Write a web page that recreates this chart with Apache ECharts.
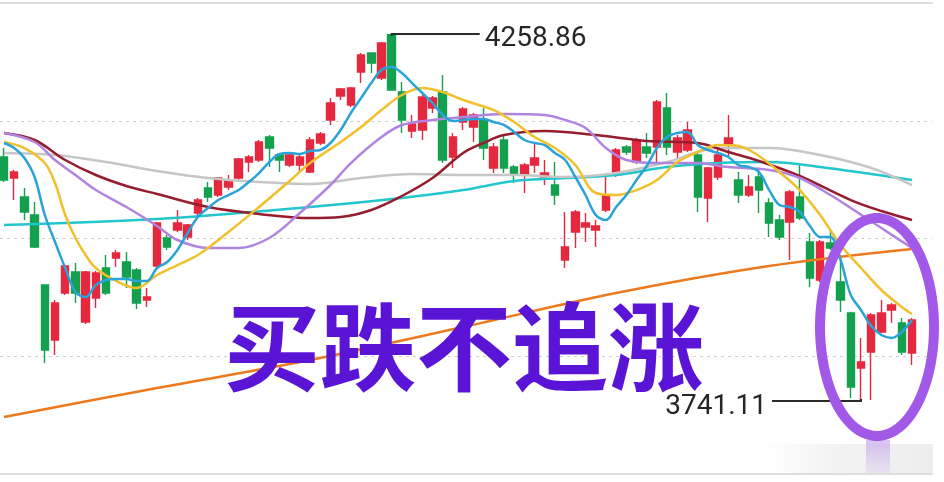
<!DOCTYPE html>
<html><head><meta charset="utf-8">
<script src="https://cdn.jsdelivr.net/npm/echarts@6/dist/echarts.min.js"></script>
<style>html,body{margin:0;padding:0;background:#fff}#c{width:944px;height:482px}</style>
</head><body><div id="c"></div>
<script>
// ---- data ----
const categories = Array.from({length: 90}, (_, i) => 'D' + (i + 1));

const open = [4085.3, 4055.7, 4028.9, 4003.5, 3904.7, 3827.1, 3893.4, 3923.1, 3852.5, 3886.4,
  3928.7, 3942.8, 3937.2, 3925.9, 3883.6, 3931.5, 3971.0, 3982.3, 3972.4, 4006.3,
  4041.6, 4031.7, 4043.0, 4055.7, 4078.2, 4081.1, 4113.5, 4088.1, 4074.0, 4074.0,
  4064.1, 4105.1, 4137.5, 4171.4, 4158.7, 4205.2, 4232.0, 4196.8, 4258.0, 4177.0,
  4122.0, 4123.4, 4154.4, 4177.0, 4085.3, 4134.7, 4127.6, 4137.5, 4069.8, 4109.3,
  4071.2, 4059.9, 4074.0, 4057.1, 4045.8, 3940.0, 3979.5, 3986.5, 3982.3, 4010.5,
  4059.9, 4099.4, 4078.2, 4099.4, 4099.4, 4154.4, 4092.4, 4095.2, 4088.1, 4027.5,
  4057.1, 4102.2, 4052.9, 4031.7, 4057.1, 4020.4, 3996.4, 3993.6, 4028.9, 3965.4,
  3911.8, 3964.0, 3909.0, 3865.2, 3787.6, 3810.2, 3838.4, 3869.5, 3851.1, 3808.8];

const close = [4052.9, 4064.1, 4007.7, 3958.3, 3813.0, 3879.3, 3931.5, 3893.4, 3923.1, 3921.7,
  3893.4, 3949.9, 3916.0, 3879.3, 3887.8, 3992.2, 3958.3, 3992.2, 3989.4, 4024.6,
  4028.9, 4055.7, 4052.9, 4082.5, 4085.3, 4106.5, 4098.0, 4081.1, 4088.1, 4085.3,
  4109.3, 4117.7, 4161.5, 4181.2, 4182.6, 4229.2, 4217.9, 4246.1, 4179.8, 4137.5,
  4131.9, 4170.0, 4168.5, 4081.1, 4113.5, 4153.0, 4144.6, 4098.0, 4099.4, 4069.8,
  4059.9, 4074.0, 4083.9, 4062.7, 4031.7, 3958.3, 4007.7, 3992.2, 3987.9, 4031.7,
  4095.2, 4092.4, 4109.3, 4091.0, 4162.9, 4099.4, 4112.1, 4123.4, 4028.9, 4069.8,
  4088.1, 4112.1, 4031.7, 4043.0, 4038.7, 3992.2, 3972.4, 4035.9, 3999.2, 3914.6,
  3965.4, 3956.9, 3883.6, 3760.8, 3796.1, 3862.4, 3865.2, 3876.5, 3810.2, 3855.3];

const low = [4050.0, 4024.6, 3996.4, 3956.9, 3794.7, 3806.0, 3890.6, 3879.3, 3849.7, 3872.3,
  3890.6, 3930.1, 3900.5, 3870.9, 3873.7, 3928.7, 3954.1, 3979.5, 3968.2, 4000.7,
  4021.8, 4028.9, 4038.7, 4052.9, 4064.1, 4078.2, 4071.2, 4064.1, 4071.2, 4064.1,
  4062.7, 4102.2, 4130.5, 4165.7, 4155.8, 4189.7, 4203.8, 4193.9, 4179.8, 4119.2,
  4112.1, 4109.3, 4147.4, 4076.8, 4069.8, 4123.4, 4106.5, 4081.1, 4062.7, 4062.7,
  4048.6, 4034.5, 4062.7, 4045.8, 4017.6, 3928.7, 3956.9, 3965.4, 3958.3, 4007.7,
  4057.1, 4088.1, 4075.4, 4083.9, 4076.8, 4088.1, 4083.9, 4092.4, 4007.7, 3993.6,
  4052.9, 4085.3, 4020.4, 4028.9, 4006.3, 3972.4, 3968.2, 3940.0, 3996.4, 3901.9,
  3909.0, 3954.1, 3866.6, 3745.3, 3741.11, 3742.5, 3837.0, 3851.1, 3806.0, 3791.9];

const high = [4098.0, 4066.9, 4041.6, 4021.8, 3904.7, 3883.6, 3934.3, 3935.8, 3924.5, 3924.5,
  3947.0, 3954.1, 3951.3, 3928.7, 3900.5, 3993.6, 3975.3, 4010.5, 3990.8, 4027.5,
  4050.0, 4057.1, 4059.9, 4083.9, 4088.1, 4109.3, 4116.3, 4091.0, 4091.0, 4088.1,
  4113.5, 4120.6, 4168.5, 4182.6, 4184.1, 4232.0, 4232.0, 4247.5, 4258.86, 4191.1,
  4144.6, 4172.8, 4171.4, 4201.0, 4119.2, 4155.8, 4147.4, 4154.4, 4105.1, 4116.3,
  4074.0, 4076.8, 4106.5, 4081.1, 4078.2, 4007.7, 4010.5, 4006.3, 3996.4, 4059.9,
  4098.0, 4102.2, 4112.1, 4119.2, 4165.7, 4175.6, 4116.3, 4134.7, 4091.0, 4071.2,
  4095.2, 4144.6, 4064.1, 4059.9, 4069.8, 4027.5, 4003.5, 4038.7, 4074.0, 3978.1,
  3968.2, 3982.3, 3947.0, 3866.6, 3829.9, 3865.2, 3883.6, 3879.3, 3858.2, 3858.2];

// moving-average lines: [candle index, value]
const maBlue = [4105.1, 4098.0, 4083.9, 4057.1, 4003.5, 3965.4, 3928.7, 3894.8, 3887.8, 3904.7,
  3911.8, 3913.2, 3913.2, 3910.4, 3910.4, 3928.7, 3937.2, 3954.1, 3978.1, 4000.7,
  4013.4, 4024.6, 4031.7, 4038.7, 4050.0, 4062.7, 4078.2, 4089.5, 4091.0, 4089.5,
  4093.8, 4095.2, 4105.1, 4123.4, 4147.4, 4168.5, 4189.7, 4208.0, 4212.3, 4203.8,
  4189.7, 4175.6, 4161.5, 4144.6, 4136.1, 4137.5, 4138.9, 4138.9, 4134.7, 4130.5,
  4120.6, 4109.3, 4105.1, 4102.2, 4091.0, 4081.1, 4057.1, 4031.7, 4003.5, 3996.4,
  4014.8, 4031.7, 4052.9, 4072.6, 4098.0, 4113.5, 4119.2, 4120.6, 4102.2, 4095.2,
  4091.0, 4085.3, 4074.0, 4071.2, 4064.1, 4038.7, 4017.6, 4014.8, 4007.7, 3987.9,
  3972.4, 3972.4, 3940.0, 3890.6, 3869.5, 3846.9, 3834.2, 3830.0, 3838.4, 3855.3];

const maYellow = [[0,4106.5],[2,4098.0],[4,4076.8],[5,4048.6],[6,4003.5],[7,3971.0],[8,3947.0],[9,3928.7],
  [11,3910.4],[13,3900.5],[15,3918.8],[17,3932.9],[19,3947.0],[22,3979.5],[25,4014.8],[28,4051.4],
  [30,4076.8],[33,4106.5],[35,4127.6],[37,4151.6],[39,4172.8],[41,4182.6],[43,4177.0],[45,4165.7],
  [48,4151.6],[50,4134.7],[52,4113.5],[54,4098.0],[56,4074.0],[58,4034.5],[60,4031.7],[62,4038.7],
  [64,4052.9],[66,4078.2],[68,4092.4],[70,4102.2],[72,4100.8],[74,4086.7],[76,4064.1],[78,4038.7],
  [80,4003.5],[82,3961.2],[84,3928.7],[86,3897.7],[88,3873.7],[89,3863.8]];

const maPurple = [[0,4119.2],[3,4106.5],[5,4081.1],[7,4059.9],[9,4038.7],[12,4014.8],[15,3988.0],[17,3968.2],
  [20,3956.9],[23,3956.9],[26,3971.0],[29,4006.3],[32,4045.8],[34,4076.8],[37,4113.5],[39,4130.5],
  [42,4137.5],[45,4141.7],[49,4146.0],[53,4144.6],[55,4137.5],[57,4126.2],[59,4098.0],[61,4081.1],
  [64,4076.8],[68,4076.8],[71,4071.2],[75,4066.9],[78,4055.7],[81,4031.7],[83,4013.4],[86,3985.1],[89,3956.9]];

const maMaroon = [[0,4119.2],[3,4109.3],[6,4081.1],[9,4059.9],[12,4044.4],[15,4033.1],[20,4014.8],[25,4004.9],
  [30,3999.2],[33,4000.7],[36,4010.5],[39,4030.3],[42,4055.7],[45,4091.0],[47,4105.1],[49,4116.3],
  [53,4122.0],[58,4116.3],[63,4107.9],[68,4105.1],[71,4092.4],[74,4079.7],[78,4058.5],[83,4024.6],
  [86,4009.1],[89,3996.4]];

const maGray = [[0,4091.0],[5,4088.1],[10,4078.2],[15,4065.6],[20,4055.7],[25,4050.0],[30,4047.2],[35,4055.7],
  [40,4061.3],[45,4059.9],[50,4059.9],[55,4057.1],[60,4062.7],[65,4078.2],[68,4092.4],[70,4098.0],
  [75,4098.0],[80,4088.1],[85,4069.8],[89,4045.8]];

const maCyan = [[0,3989.4],[15,3997.8],[30,4014.8],[39,4027.5],[45,4038.7],[50,4051.4],[55,4055.7],[60,4059.9],
  [65,4071.2],[70,4076.8],[75,4078.2],[80,4071.2],[85,4061.3],[89,4052.9]];

const maOrange = [[0,3718.5],[15,3759.4],[30,3798.9],[45,3845.5],[60,3893.4],[75,3931.5],[89,3955.5]];

const highLabel = {index: 38, value: 4258.86, text: '4258.86'};
const lowLabel = {index: 84, value: 3741.11, text: '3741.11'};
const slogan = '买跌不追涨';

// ---- chart ----
const chart = echarts.init(document.getElementById('c'), null, {renderer: 'canvas'});
const candleData = open.map((o, i) => [o, close[i], low[i], high[i]]);

function ma(data, color, z) {
  return {type: 'line', data: data, xAxisIndex: 0, yAxisIndex: 0, smooth: 0.35, symbol: 'none',
    clip: false, z: z, lineStyle: {width: 2.5, color: color}, emphasis: {disabled: true}};
}

const option = {
  animation: false,
  backgroundColor: '#ffffff',
  grid: [{left: 4, right: 32, top: 3, bottom: 9}, {left: 0, right: 12, top: 3, bottom: 8}],
  xAxis: [
    {type: 'category', data: categories, boundaryGap: false, show: false, gridIndex: 0},
    {type: 'value', gridIndex: 1, min: 0, max: 1, position: 'bottom',
      axisLine: {show: true, onZero: false, lineStyle: {color: '#dddddd', width: 2}},
      axisTick: {show: false}, axisLabel: {show: false}, splitLine: {show: false}},
    {type: 'value', gridIndex: 1, min: 0, max: 1, position: 'top',
      axisLine: {show: true, onZero: false, lineStyle: {color: '#dddddd', width: 2}},
      axisTick: {show: false}, axisLabel: {show: false}, splitLine: {show: false}}
  ],
  yAxis: [
    {type: 'value', gridIndex: 0, min: 3639.5, max: 4302.6, show: false},
    {type: 'value', gridIndex: 1, min: 0, max: 4, interval: 1,
      axisLine: {show: false}, axisTick: {show: false}, axisLabel: {show: false},
      splitLine: {show: true, lineStyle: {color: '#cfcfcf', type: [3, 4], width: 1}}}
  ],
  series: [
    {type: 'candlestick', data: candleData, xAxisIndex: 0, yAxisIndex: 0, barWidth: 8, clip: false, z: 2,
      itemStyle: {color: '#e6283f', color0: '#13a04f', borderColor: '#e6283f', borderColor0: '#13a04f', borderWidth: 1.4}},
    ma(maOrange, '#ec7a1c', 3),
    ma(maCyan, '#22c6cc', 3),
    ma(maGray, '#c6c6c6', 3),
    ma(maMaroon, '#951d2e', 4),
    ma(maPurple, '#b184e2', 4),
    ma(maYellow, '#f1c02c', 5),
    ma(maBlue, '#2aa3d8', 6)
  ]
};
chart.setOption(option);

// ---- annotations placed from data values ----
const ph = chart.convertToPixel({xAxisIndex: 0, yAxisIndex: 0}, [highLabel.index, highLabel.value]);
const pl = chart.convertToPixel({xAxisIndex: 0, yAxisIndex: 0}, [lowLabel.index, lowLabel.value]);

const ell = [];
const cx = 877, cy = 327, rx = 57, ry = 109;
for (let k = 0; k < 90; k++) {
  const a = k / 90 * Math.PI * 2;
  ell.push([cx + rx * Math.cos(a), cy + ry * Math.sin(a)]);
}

chart.setOption({
  graphic: [
    {type: 'rect', z: 50, silent: true, shape: {x: 763, y: 444, width: 170, height: 29},
      style: {fill: new echarts.graphic.LinearGradient(0, 0, 1, 0, [
        {offset: 0, color: 'rgba(240,240,240,0)'}, {offset: 0.4, color: 'rgba(238,238,238,0.7)'},
        {offset: 1, color: 'rgba(234,234,234,0.85)'}])}},
    {type: 'rect', z: 51, silent: true, shape: {x: 866, y: 440, width: 24, height: 33},
      style: {fill: new echarts.graphic.LinearGradient(0, 0, 0, 1, [
        {offset: 0, color: 'rgba(190,150,235,0.6)'}, {offset: 1, color: 'rgba(215,200,235,0.35)'}])}},
    {type: 'polyline', z: 60, silent: true,
      shape: {points: [[ph[0], ph[1] + 2], [ph[0], ph[1]], [ph[0] + 88, ph[1]]]},
      style: {stroke: '#2b2b2b', lineWidth: 2, fill: null}},
    {type: 'text', z: 60, silent: true, x: ph[0] + 93, y: ph[1] + 5,
      style: {text: highLabel.text, font: '28px Roboto', fill: '#262626', textVerticalAlign: 'middle', textAlign: 'left'}},
    {type: 'polyline', z: 60, silent: true,
      shape: {points: [[pl[0] - 89, pl[1]], [pl[0], pl[1]], [pl[0], pl[1] - 2]]},
      style: {stroke: '#2b2b2b', lineWidth: 2, fill: null}},
    {type: 'text', z: 60, silent: true, x: pl[0] - 94, y: pl[1] + 6,
      style: {text: lowLabel.text, font: '28px Roboto', fill: '#262626', textVerticalAlign: 'middle', textAlign: 'right'}},
    {type: 'text', z: 70, silent: true, x: 464, y: 347,
      style: {text: slogan, font: 'bold 96px "Noto Sans CJK SC"', fill: '#5a14d6',
        textAlign: 'center', textVerticalAlign: 'middle',
        shadowColor: 'rgba(170,120,255,0.55)', shadowBlur: 6}},
    {type: 'polygon', z: 80, silent: true, shape: {points: ell},
      style: {fill: null, stroke: '#a259e8', lineWidth: 10}}
  ]
});
</script>
</body></html>
